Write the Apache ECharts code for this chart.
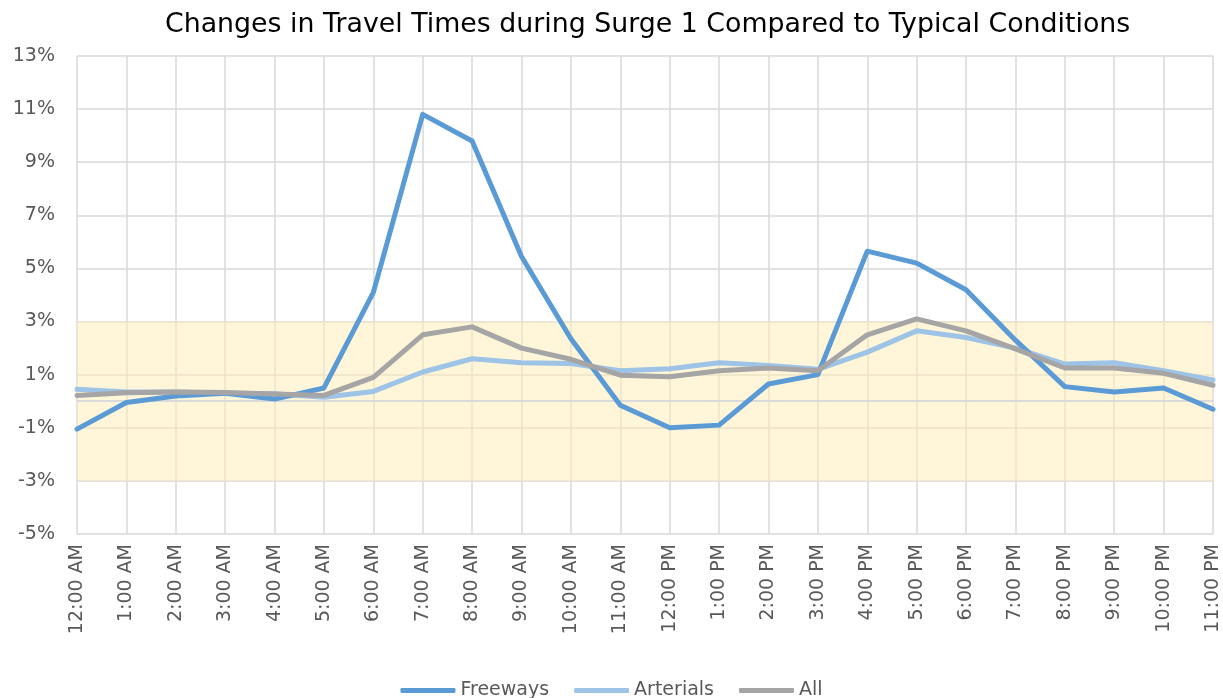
<!DOCTYPE html>
<html>
<head>
<meta charset="utf-8">
<script src="https://cdn.jsdelivr.net/npm/echarts@6/dist/echarts.min.js"></script>
<style>
html, body { margin: 0; padding: 0; background: #fff; }
#container { width: 1223px; height: 698px; }
</style>
</head>
<body>
<div id="container"></div>
<script>
var hours = ['12:00 AM', '1:00 AM', '2:00 AM', '3:00 AM', '4:00 AM', '5:00 AM', '6:00 AM', '7:00 AM',
    '8:00 AM', '9:00 AM', '10:00 AM', '11:00 AM', '12:00 PM', '1:00 PM', '2:00 PM', '3:00 PM',
    '4:00 PM', '5:00 PM', '6:00 PM', '7:00 PM', '8:00 PM', '9:00 PM', '10:00 PM', '11:00 PM'];

var freeways = [-1.05, -0.05, 0.2, 0.3, 0.08, 0.5, 4.1, 10.8, 9.8, 5.45, 2.35, -0.15,
    -1.0, -0.9, 0.65, 1.0, 5.65, 5.2, 4.2, 2.3, 0.55, 0.35, 0.5, -0.3];
var arterials = [0.45, 0.35, 0.35, 0.3, 0.28, 0.15, 0.37, 1.1, 1.6, 1.45, 1.42, 1.15,
    1.22, 1.45, 1.35, 1.2, 1.85, 2.65, 2.4, 2.0, 1.4, 1.45, 1.15, 0.8];
var all = [0.22, 0.32, 0.35, 0.33, 0.27, 0.22, 0.9, 2.5, 2.8, 2.0, 1.58, 0.98,
    0.92, 1.15, 1.25, 1.15, 2.5, 3.1, 2.65, 1.97, 1.25, 1.25, 1.05, 0.6];

var bandLow = -3;
var bandHigh = 3;

var font = 'DejaVu Sans';
var dom = document.getElementById('container');
var myChart = echarts.init(dom);

function lineSeries(name, data, color, z) {
    return {
        name: name,
        type: 'line',
        data: data,
        symbol: 'none',
        z: z,
        lineStyle: { color: color, width: 5, cap: 'round', join: 'round' },
        itemStyle: { color: color }
    };
}

var series = [
    lineSeries('Freeways', freeways, '#5b9bd5', 5),
    lineSeries('Arterials', arterials, '#9dc3e6', 4),
    lineSeries('All', all, '#a5a5a5', 6)
];
series[1].markArea = {
    silent: true,
    itemStyle: { color: 'rgba(255, 236, 179, 0.5)' },
    data: [[{ yAxis: bandLow }, { yAxis: bandHigh }]]
};
series[1].markLine = {
    silent: true,
    symbol: 'none',
    label: { show: false },
    lineStyle: { color: '#d3d6e0', width: 1.5, type: 'solid' },
    data: [{ yAxis: 0 }]
};

var option = {
    animation: false,
    title: {
        text: 'Changes in Travel Times during Surge 1 Compared to Typical Conditions',
        left: 160,
        top: 7,
        textStyle: { fontFamily: font, fontSize: 26.8, fontWeight: 'normal', color: '#000' }
    },
    legend: {
        top: 676,
        left: 'center',
        icon: 'roundRect',
        itemWidth: 55,
        itemHeight: 5,
        itemGap: 25,
        textStyle: { fontFamily: font, fontSize: 19, color: '#595959' },
        data: ['Freeways', 'Arterials', 'All']
    },
    grid: { left: 77, right: 10, top: 56, bottom: 164, containLabel: false },
    xAxis: {
        type: 'category',
        data: hours,
        boundaryGap: false,
        axisTick: { show: false },
        axisLine: { lineStyle: { color: '#d9d9d9', width: 1.5 } },
        splitLine: { show: true, lineStyle: { color: '#d9d9d9', width: 1.5 } },
        axisLabel: {
            rotate: 90,
            interval: 0,
            margin: 10,
            fontFamily: font,
            fontSize: 19,
            color: '#595959'
        }
    },
    yAxis: {
        type: 'value',
        min: -5,
        max: 13,
        interval: 2,
        axisLine: { show: false },
        axisTick: { show: false },
        splitLine: { lineStyle: { color: '#d9d9d9', width: 1.5 } },
        axisLabel: {
            formatter: '{value}%',
            margin: 22,
            fontFamily: font,
            fontSize: 19,
            color: '#595959'
        }
    },
    series: series
};

myChart.setOption(option);
</script>
</body>
</html>
